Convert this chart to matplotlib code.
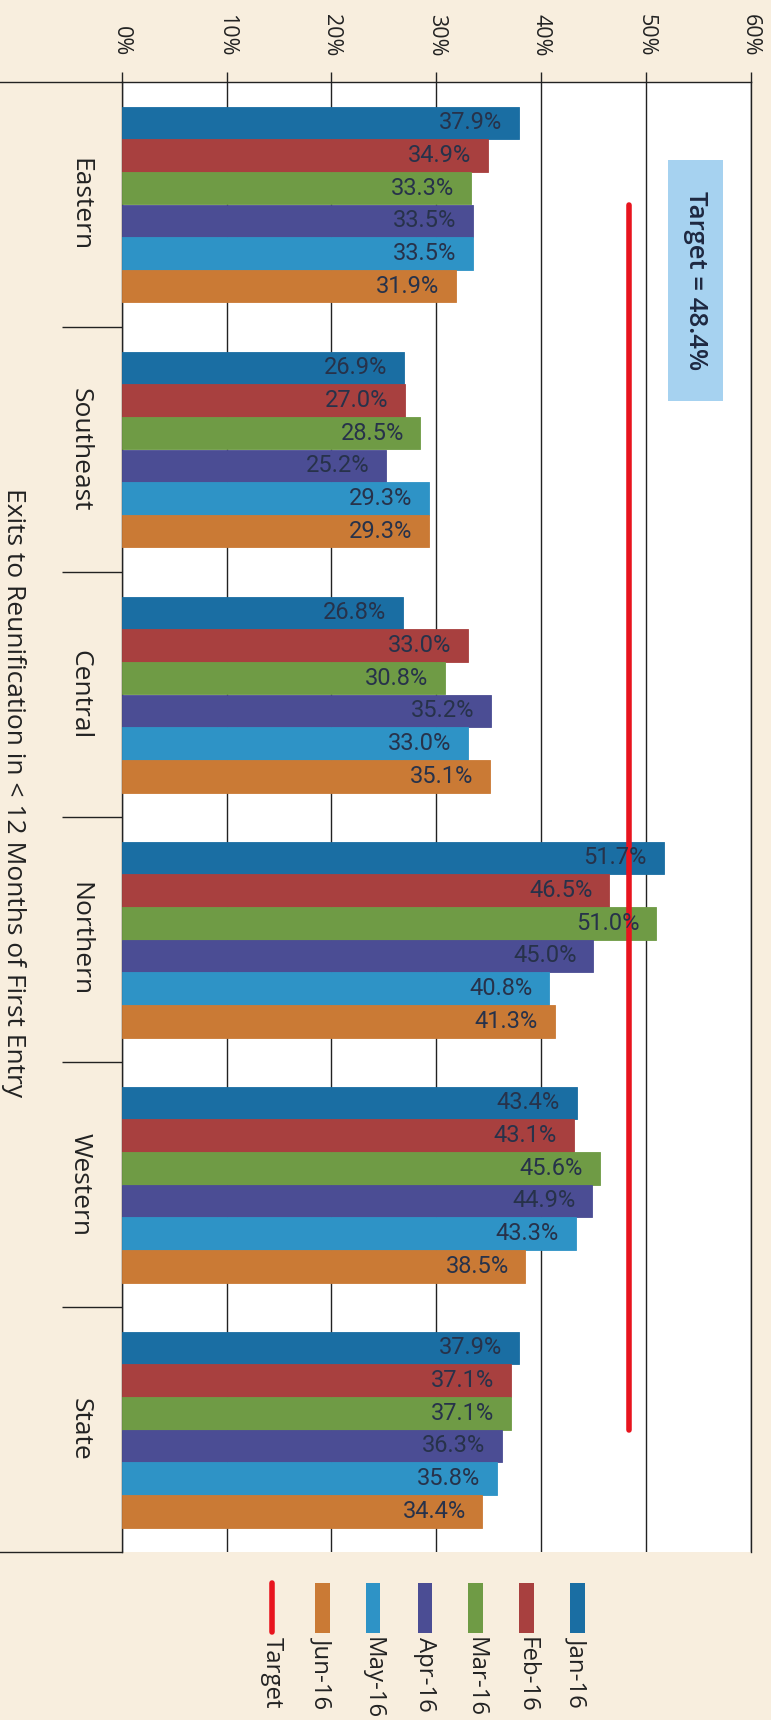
import matplotlib
matplotlib.use("Agg")
import matplotlib.pyplot as plt
from matplotlib.patches import Rectangle
import numpy as np

# ---- data ----
regions = ["Eastern", "Southeast", "Central", "Northern", "Western", "State"]
months = ["Jan-16", "Feb-16", "Mar-16", "Apr-16", "May-16", "Jun-16"]
jan = [37.9, 26.9, 26.8, 51.7, 43.4, 37.9]
feb = [34.9, 27.0, 33.0, 46.5, 43.1, 37.1]
mar = [33.3, 28.5, 30.8, 51.0, 45.6, 37.1]
apr = [33.5, 25.2, 35.2, 45.0, 44.9, 36.3]
may = [33.5, 29.3, 33.0, 40.8, 43.3, 35.8]
jun = [31.9, 29.3, 35.1, 41.3, 38.5, 34.4]
series = [jan, feb, mar, apr, may, jun]
target = 48.4
xticks = [0, 10, 20, 30, 40, 50, 60]
xlabel = "Exits to Reunification in < 12 Months of First Entry"
target_text = "Target = 48.4%"

colors = ["#1A6EA3", "#A8403F", "#6F9B45", "#4B4D94", "#2E93C6", "#CA7A35"]
BG = "#F8EEDE"
W, H = 771, 1720

fig = plt.figure(figsize=(W / 100, H / 100), dpi=100, facecolor=BG)
ax_l, ax_r, ax_t, ax_b = 121.7, 750.7, 82, 1552
ax = fig.add_axes([ax_l / W, 1 - ax_b / H, (ax_r - ax_l) / W, (ax_b - ax_t) / H])
ax.set_facecolor("white")

n = len(series)
bh = 0.8 / n
y0 = np.arange(len(regions))
label_font = dict(family=["Roboto", "DejaVu Sans"], size=17, color="#27324A")
for i, (vals, c) in enumerate(zip(series, colors)):
    ypos = y0 - 0.4 + bh * (i + 0.5)
    bars = ax.barh(ypos, vals, height=bh, color=c, edgecolor=c, linewidth=0.6, zorder=3)
    for b, v in zip(bars, vals):
        ax.annotate(f"{v:.1f}%", xy=(v, b.get_y() + b.get_height() / 2),
                    xytext=(-12, 0), textcoords="offset points",
                    ha="right", va="center", zorder=5, **label_font)

# target line
ax.plot([target] * len(regions), y0, color="#E8141E", lw=4, zorder=4,
        solid_capstyle="round")

ax.set_xlim(0, 60)
ax.set_ylim(len(regions) - 0.5, -0.5)

# x axis on top
ax.xaxis.tick_top()
ax.set_xticks(xticks)
ax.set_xticklabels([f"{t}%" for t in xticks], rotation=-90, ha="center", va="bottom",
                   family="Open Sans", fontsize=15.5, color="#222222")
ax.tick_params(axis="x", which="major", length=7.2, width=1.0, color="#222222",
               pad=11, top=True, bottom=False)
ax.grid(axis="x", color="#222222", lw=1.0, zorder=1)

# y axis: category separators
ax.set_yticks(y0)
ax.set_yticklabels([])
ax.tick_params(axis="y", which="major", length=0)
ax.set_yticks(np.arange(0.5, len(regions) - 0.5, 1.0), minor=True)
ax.tick_params(axis="y", which="minor", length=43, width=1.0, color="#222222",
               direction="out", left=True)
for yb in [-0.5, len(regions) - 0.5]:
    ax.plot([-ax_l / (ax_r - ax_l), 0], [yb, yb], transform=ax.get_yaxis_transform(),
            color="#222222", lw=1.0, clip_on=False, zorder=6)

for s in ["top", "left", "right"]:
    ax.spines[s].set_color("#222222")
    ax.spines[s].set_linewidth(1.0)
ax.spines["bottom"].set_visible(False)

# category labels
for yy, r in zip(y0, regions):
    ax.text(-(ax_l - 80) / (ax_r - ax_l), yy, r, transform=ax.get_yaxis_transform(),
            rotation=-90, ha="center", va="center", family="Open Sans",
            fontsize=19, color="#222222")

# axis title
fig.text(13 / W, 1 - 793 / H, xlabel, rotation=-90, ha="center", va="center",
         family="Open Sans", fontsize=19, color="#222222")

# target box
ax.add_patch(Rectangle((0.869, 0.783), 0.087, 0.164, transform=ax.transAxes,
                       facecolor="#A6D2F0", edgecolor="none", zorder=6))
ax.text(0.9125, 0.865, target_text, transform=ax.transAxes, rotation=-90,
        ha="center", va="center", family="Open Sans", fontsize=18.5,
        fontweight="semibold", color="#1E2840", zorder=7)

# legend (vertical layout, rotated)
leg_x = [577.7, 526.7, 475.7, 425.0, 373.0, 322.7]
pw = 14.7
for x, c, m in zip(leg_x, colors, months):
    fig.add_artist(Rectangle(((x - pw / 2) / W, 1 - 1633 / H), pw / W, 50 / H,
                             transform=fig.transFigure, facecolor=c, edgecolor="none"))
    fig.text(x / W, 1 - 1637 / H, m, rotation=-90, ha="center", va="top",
             family="Open Sans", fontsize=17.3, color="#222222")
tx = 271.7
fig.add_artist(plt.Line2D([tx / W, tx / W], [1 - 1583 / H, 1 - 1632 / H],
                          transform=fig.transFigure, color="#E8141E", lw=4,
                          solid_capstyle="round"))
fig.text(tx / W, 1 - 1637 / H, "Target", rotation=-90, ha="center", va="top",
         family="Open Sans", fontsize=17.3, color="#222222")

fig.savefig("out.png", dpi=100, facecolor=BG)
